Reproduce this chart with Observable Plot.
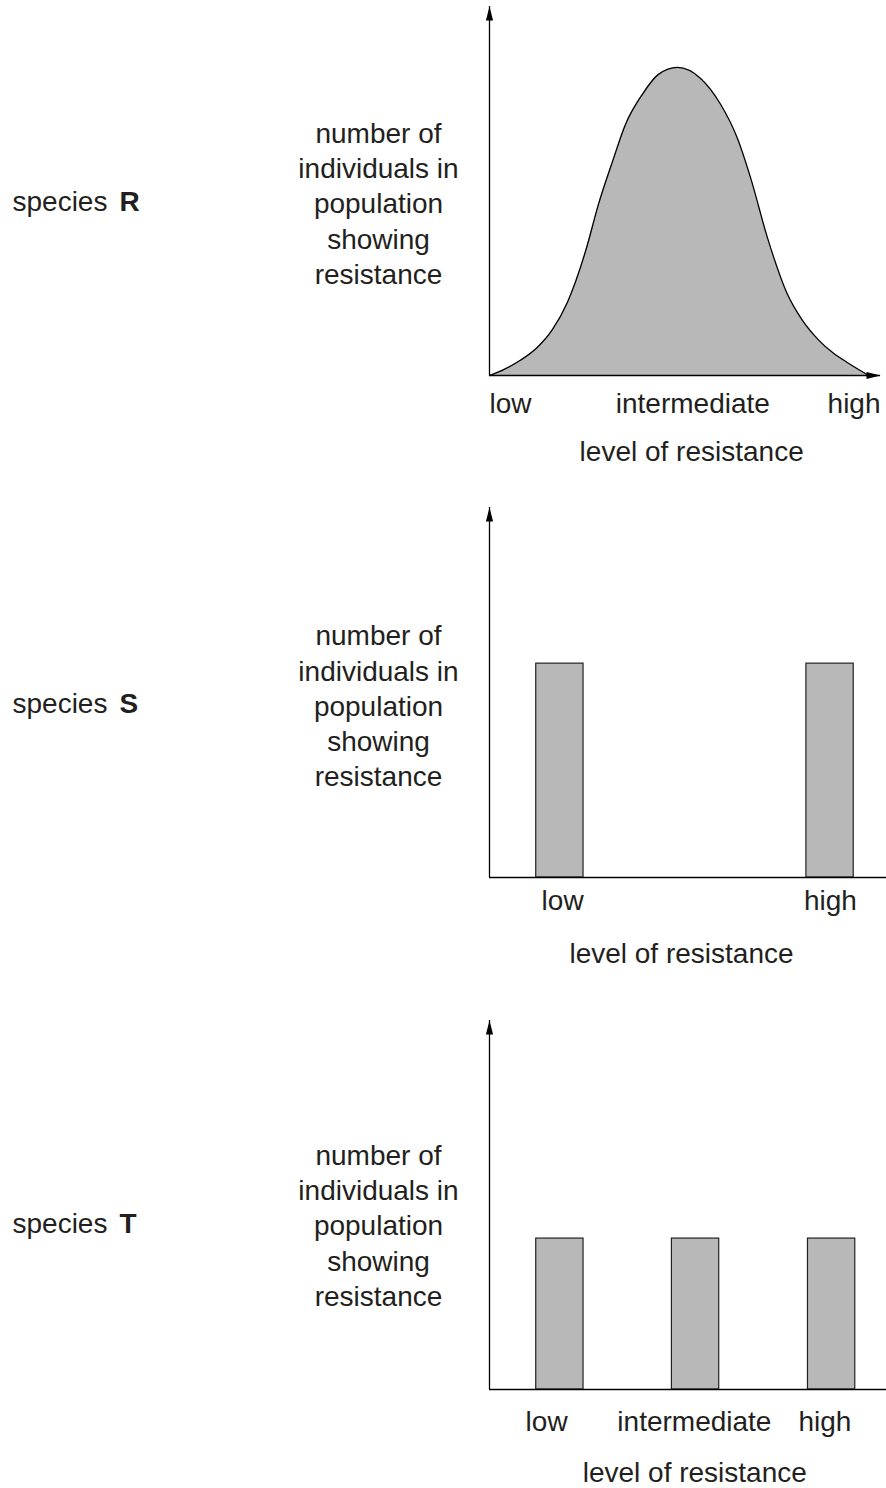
<!DOCTYPE html>
<html>
<head>
<meta charset="utf-8">
<script src="https://cdn.jsdelivr.net/npm/d3@7"></script>
<script src="https://cdn.jsdelivr.net/npm/@observablehq/plot@0.6"></script>
<style>
  html, body { margin: 0; padding: 0; background: #fff; }
  #chart { width: 886px; }
  #chart svg { display: block; }
</style>
</head>
<body>
<div id="chart"></div>
<script>
// ---------- data ----------
const yLabel = "number of\nindividuals in\npopulation\nshowing\nresistance";
const xTitle = "level of resistance";
const species = ["R", "S", "T"];

// species R: smooth distribution (level of resistance 0–100, relative number of individuals)
const resistanceR = [0, 4, 8, 12, 16, 20, 24.6, 27.9, 31.5, 34.8, 39.1, 43.2, 48.1, 54.0, 59.1, 63.4, 66.8, 71.1, 76, 80, 84, 88, 92, 97];
const countR      = [0, 1.8, 4.2, 7.4, 12.3, 20.0, 33.8, 46.5, 58.1, 68.1, 76.2, 81.6, 83.5, 80.5, 73.5, 64.3, 53.5, 37.3, 22.5, 15.0, 9.8, 6.0, 3.2, 0];
const ticksR  = [0, 52, 100];
const labelsR = ["low", "intermediate", "high"];

// species S: two resistance classes
const levelsS = [18, 87.1];
const countS  = [57.8, 57.8];
const ticksS  = [18.7, 87.2];
const labelsS = ["low", "high"];

// species T: three resistance classes
const levelsT = [18, 52.7, 87.5];
const countT  = [40.9, 40.9, 40.9];
const ticksT  = [14.6, 52.4, 85.8];
const labelsT = ["low", "intermediate", "high"];

// ---------- styling ----------
const INK = "#231f20";
const GREY = "#b8b8b8";
const FONT = "'Liberation Sans', Arial, Helvetica, sans-serif";
const FS = 28;

const arrowHead = {
  draw(ctx) {
    ctx.moveTo(0, 0);
    ctx.lineTo(-3.6, 14);
    ctx.lineTo(3.6, 14);
    ctx.closePath();
  }
};

function sideLabels(letter, dy) {
  return [
    Plot.text([yLabel], {text: d => d, frameAnchor: "left", textAnchor: "middle", lineAnchor: "middle",
      lineHeight: 1.26, dx: -111, dy, fill: INK, fontSize: FS}),
    Plot.text(["species"], {text: d => d, frameAnchor: "left", textAnchor: "start", lineAnchor: "middle",
      dx: -477, dy, fill: INK, fontSize: FS}),
    Plot.text([letter], {text: d => d, frameAnchor: "left", textAnchor: "start", lineAnchor: "middle",
      dx: -370, dy, fill: INK, fontSize: FS, fontWeight: "bold"})
  ];
}

function tickLabels(ticks, labels, anchors, dy) {
  return labels.map((lab, i) => Plot.text([lab], {
    x: () => ticks[i], text: d => d, frameAnchor: "bottom", lineAnchor: "top",
    textAnchor: anchors[i], dy, fill: INK, fontSize: FS
  }));
}

function titleMark(xc, dy) {
  return Plot.text([xTitle], {x: () => xc, text: d => d, frameAnchor: "bottom", lineAnchor: "top",
    textAnchor: "middle", dy, fill: INK, fontSize: FS});
}

function axes(withXArrow) {
  const m = [
    Plot.ruleX([0], {stroke: "#000", strokeWidth: 1.3}),
    Plot.ruleY([0], {stroke: "#000", strokeWidth: 1.3}),
    Plot.dot([{x: 0, y: 100}], {x: "x", y: "y", symbol: arrowHead, fill: "#000", stroke: "none"})
  ];
  if (withXArrow) m.push(Plot.dot([{x: 100, y: 0}], {x: "x", y: "y", symbol: arrowHead, rotate: 90, fill: "#000", stroke: "none"}));
  return m;
}

function panel({height, mt, mb, mr, marks}) {
  return Plot.plot({
    width: 886, height,
    marginTop: mt, marginBottom: mb, marginLeft: 489, marginRight: mr,
    x: {domain: [0, 100], range: [489, 880], axis: null},
    y: {domain: [0, 100], axis: null},
    style: {fontFamily: FONT, fontSize: FS + "px", color: INK, background: "#fff", overflow: "visible"},
    marks
  });
}

const curveR = resistanceR.map((x, i) => ({x, y: countR[i]}));
const barsS = levelsS.map((x, i) => ({x, y: countS[i]}));
const barsT = levelsT.map((x, i) => ({x, y: countT[i]}));
const HALF = 6.05;

const chartR = panel({
  height: 480, mt: 6, mb: 105, mr: 6,
  marks: [
    Plot.areaY(curveR, {x: "x", y: "y", curve: "monotone-x", fill: GREY}),
    Plot.line(curveR, {x: "x", y: "y", curve: "monotone-x", stroke: "#000", strokeWidth: 1.3}),
    ...axes(true),
    ...sideLabels(species[0], 11),
    ...tickLabels(ticksR, labelsR, ["start", "middle", "end"], 18),
    titleMark(51.7, 66)
  ]
});

const chartS = panel({
  height: 510, mt: 27, mb: 113, mr: 0,
  marks: [
    Plot.rectY(barsS, {x1: d => d.x - HALF, x2: d => d.x + HALF, y: "y", fill: GREY, stroke: "#222", strokeWidth: 1.2}),
    ...axes(false),
    ...sideLabels(species[1], 12),
    ...tickLabels(ticksS, labelsS, ["middle", "middle"], 13),
    titleMark(49.1, 66)
  ]
});

const chartT = panel({
  height: 498, mt: 30, mb: 99, mr: 0,
  marks: [
    Plot.rectY(barsT, {x1: d => d.x - HALF, x2: d => d.x + HALF, y: "y", fill: GREY, stroke: "#222", strokeWidth: 1.2}),
    ...axes(false),
    ...sideLabels(species[2], 19),
    ...tickLabels(ticksT, labelsT, ["middle", "middle", "middle"], 22),
    titleMark(52.5, 73)
  ]
});

const root = document.getElementById("chart");
root.append(chartR, chartS, chartT);
</script>
</body>
</html>
